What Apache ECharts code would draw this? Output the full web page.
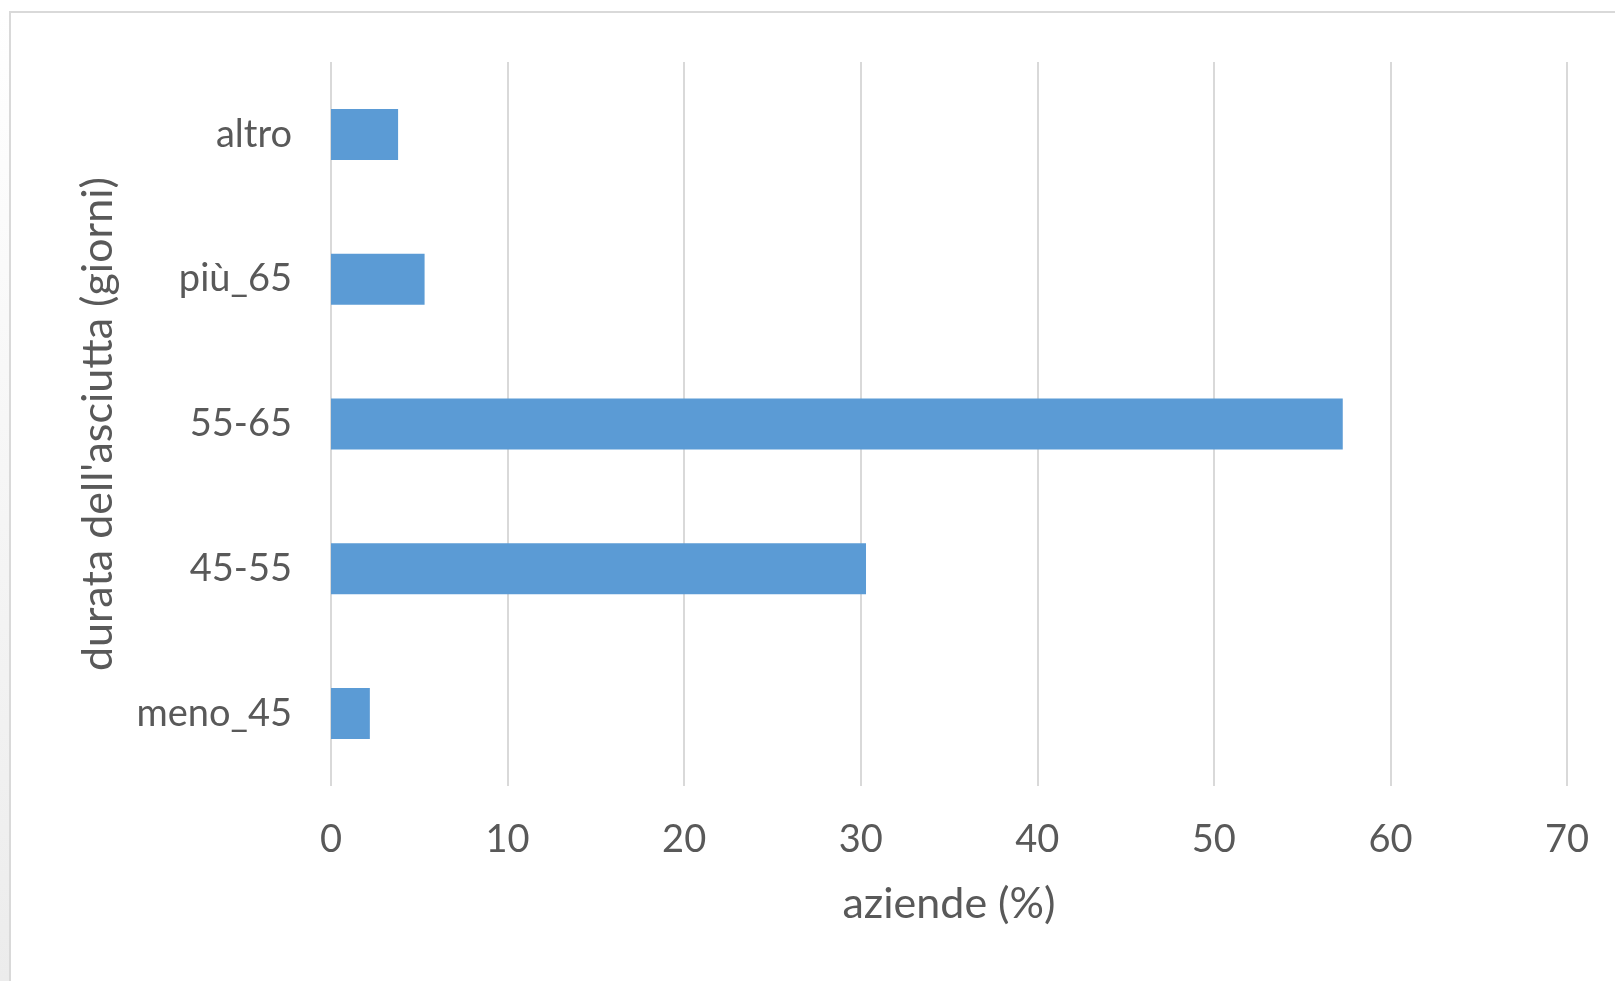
<!DOCTYPE html>
<html>
<head>
<meta charset="utf-8">
<script src="https://cdn.jsdelivr.net/npm/echarts@6/dist/echarts.min.js"></script>
<style>
html,body{margin:0;padding:0;background:#fff;}
#c{width:1615px;height:981px;}
</style>
</head>
<body>
<div id="c"></div>
<script>
const categories = ['meno_45', '45-55', '55-65', 'più_65', 'altro'];
const values = [2.2, 30.3, 57.3, 5.3, 3.8];
const xTicks = [0, 10, 20, 30, 40, 50, 60, 70];

const chart = echarts.init(document.getElementById('c'), null, {renderer: 'canvas'});
const font = 'Lato, Carlito, Calibri, "Open Sans", sans-serif';
chart.setOption({
  backgroundColor: '#ffffff',
  animation: false,
  graphic: [
    {type: 'rect', left: 0, top: 12, shape: {x: 0, y: 0, width: 9, height: 969},
      style: {fill: new echarts.graphic.LinearGradient(0, 0, 0, 1, [{offset: 0, color: '#ffffff'}, {offset: 1, color: '#ececec'}])}, silent: true},
    {type: 'polyline', shape: {points: [[10, 981], [10, 12], [1615, 12]]},
      style: {stroke: '#d9d9d9', lineWidth: 2, fill: null}, silent: true}
  ],
  grid: {left: 331, right: 48, top: 62, bottom: 195, containLabel: false},
  xAxis: {
    type: 'value', min: xTicks[0], max: xTicks[xTicks.length - 1], interval: 10,
    name: 'aziende (%)', nameLocation: 'middle', nameGap: 97,
    nameTextStyle: {color: '#595959', fontSize: 43, fontFamily: font},
    axisLine: {show: false}, axisTick: {show: false},
    axisLabel: {color: '#595959', fontSize: 38, fontFamily: font, margin: 35},
    splitLine: {show: true, lineStyle: {color: '#d9d9d9', width: 2}}
  },
  yAxis: {
    type: 'category', data: categories,
    name: "durata dell'asciutta (giorni)", nameLocation: 'middle', nameGap: 211, nameRotate: 90,
    nameTextStyle: {color: '#595959', fontSize: 43, fontFamily: font},
    axisLine: {show: false}, axisTick: {show: false},
    axisLabel: {color: '#595959', fontSize: 38, fontFamily: font, margin: 39},
    splitLine: {show: false}
  },
  series: [{
    type: 'bar', data: values, barWidth: 51,
    itemStyle: {color: '#5b9bd5'}
  }]
});
</script>
</body>
</html>
